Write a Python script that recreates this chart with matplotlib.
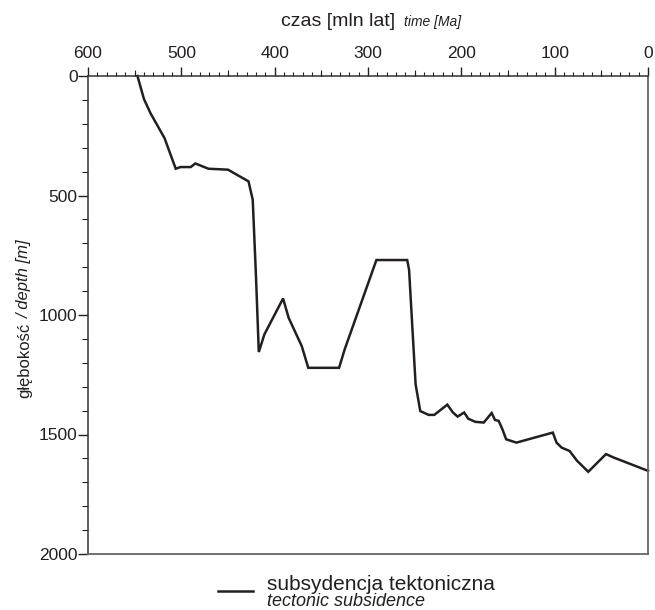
import numpy as np
import matplotlib.pyplot as plt
from matplotlib.ticker import MultipleLocator

plt.rcParams['font.family'] = ['Liberation Sans', 'DejaVu Sans']

# age [Ma] and tectonic subsidence depth [m]
age = [547, 540, 533, 518, 506, 501, 490, 485, 471, 450, 428, 423.5, 420,
       417, 411, 391, 385, 371, 364, 331, 325, 291, 258, 256, 249, 244,
       235, 229, 215, 209, 204, 197, 192.5, 185, 176, 167.5, 164, 160,
       156, 152, 141, 102, 98, 92.5, 84, 76, 64, 45, 37, 0]
depth = [0, 97, 156, 260, 388, 381, 381, 366, 388, 392, 441, 518, 840,
         1155, 1081, 931, 1012, 1130, 1221, 1221, 1144, 770, 770, 810, 1290, 1402,
         1418, 1418, 1375, 1408, 1425, 1408, 1434, 1447, 1450, 1410, 1439, 1443,
         1478, 1520, 1534, 1492, 1534, 1555, 1569, 1610, 1656, 1582, 1596, 1652]

x_major = [600, 500, 400, 300, 200, 100, 0]
x_mid = [550, 450, 350, 250, 150, 50]
y_major = [0, 500, 1000, 1500, 2000]

W, H = 655, 610
fig = plt.figure(figsize=(W / 100, H / 100), dpi=100)
ax = fig.add_axes([88 / W, (H - 554) / H, 560 / W, 478 / H])
ink = '#231f20'

# medium ticks every 50 Ma on a twin axis (twiny moves ax ticks, so set it up first)
ax2 = ax.twiny()
ax2.set_xlim(600, 0)
ax2.set_xticks(x_mid)
ax2.tick_params(axis='x', top=True, bottom=False, labeltop=False,
                labelbottom=False, direction='out', length=4.5, width=0.8,
                color=ink)
for s in ax2.spines.values():
    s.set_visible(False)

ax.plot(age, depth, color=ink, lw=1.8, solid_joinstyle='miter', clip_on=False)
ax.set_xlim(600, 0)
ax.set_ylim(2000, 0)

# time axis on top
ax.xaxis.tick_top()
ax.set_xticks(x_major)
ax.xaxis.set_minor_locator(MultipleLocator(10))
ax.tick_params(axis='x', which='major', direction='out', length=6.5, width=1,
               pad=4, labelsize=12.5, colors=ink)
ax.tick_params(axis='x', which='minor', direction='out', length=3, width=0.8,
               color=ink)

# depth axis
ax.set_yticks(y_major)
ax.yaxis.set_minor_locator(MultipleLocator(100))
ax.tick_params(axis='y', which='major', direction='out', length=7, width=1,
               pad=0.5, labelsize=12.5, colors=ink)
ax.tick_params(axis='y', which='minor', direction='out', length=4, width=0.8,
               color=ink)

for side in ['left', 'top']:
    ax.spines[side].set_color('#333333')
    ax.spines[side].set_linewidth(1.1)
for side in ['right', 'bottom']:
    ax.spines[side].set_color('#666666')
    ax.spines[side].set_linewidth(1.3)


def px(x, y):
    return x / W, 1 - y / H


fig.canvas.draw()
r = fig.canvas.get_renderer()

# axis titles: Polish in roman, English in smaller italic
t1 = fig.text(*px(281, 26), 'czas [mln lat]', fontsize=14, color=ink,
              va='baseline')
bb = t1.get_window_extent(r)
fig.text((bb.x1 + 9) / W, 1 - 26 / H, 'time [Ma]', fontsize=10,
         style='italic', color=ink, va='baseline')

t2 = fig.text(*px(29, 398), 'głębokość', fontsize=12, color=ink, rotation=90,
              rotation_mode='anchor', ha='left', va='baseline')
bb = t2.get_window_extent(r)
fig.text(29 / W, (bb.y1 + 5) / H, '/ depth [m]', fontsize=12, style='italic',
         color=ink, rotation=90, rotation_mode='anchor', ha='left',
         va='baseline')

# legend
fig.add_artist(plt.Line2D([218 / W, 253 / W], [1 - 591 / H, 1 - 591 / H],
                          color=ink, lw=1.8))
fig.text(*px(267, 590), 'subsydencja tektoniczna', fontsize=15, color=ink,
         va='baseline')
fig.text(*px(267, 606), 'tectonic subsidence', fontsize=13, style='italic',
         color=ink, va='baseline')

fig.savefig('out.png', dpi=100)
